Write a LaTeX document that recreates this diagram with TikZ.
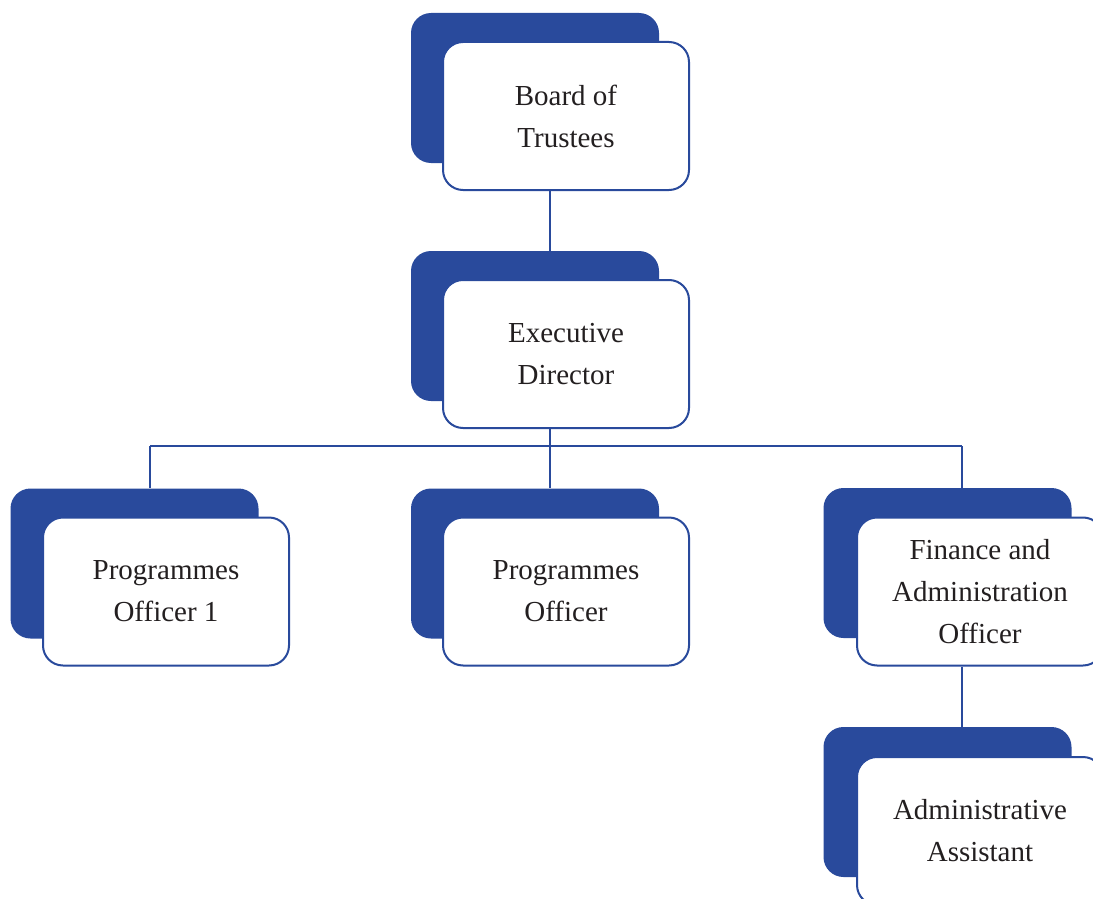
\documentclass[tikz,border=0pt]{standalone}
\usepackage{fontspec}
\setmainfont{Liberation Serif}
\usetikzlibrary{calc}
\definecolor{navy}{HTML}{294A9C}
\definecolor{ink}{HTML}{231F20}
\tikzset{
 shadowbox/.style={fill=navy, rounded corners=20pt, minimum width=248pt, minimum height=150pt, inner sep=0pt},
 unitbox/.style={draw=navy, line width=2pt, fill=white, rounded corners=20pt, minimum width=246pt, minimum height=148pt, inner sep=0pt, align=center, text=ink, font=\fontsize{29}{42}\selectfont},
 link/.style={draw=navy, line width=2pt}
}
\begin{document}
\begin{tikzpicture}[x=1pt,y=-1pt]
\useasboundingbox (0,0) rectangle (1093,899);
\clip (0,0) rectangle (1093,899);
% shadows
\node[shadowbox] (bsh) at (535,88) {};
\node[shadowbox] (esh) at (535,326) {};
\node[shadowbox] (p1sh) at (134.5,563.5) {};
\node[shadowbox] (p2sh) at (535,563.5) {};
\node[shadowbox] (fsh) at (947.5,563) {};
\node[shadowbox] (ash) at (947.5,802) {};
% boxes
\node[unitbox] (board) at (566,116) {Board of\\Trustees};
\node[unitbox] (exec) at (566,354) {Executive\\Director};
\node[unitbox] (po1) at (166,591.5) {Programmes\\Officer 1};
\node[unitbox] (po2) at (566,591.5) {Programmes\\Officer};
\node[unitbox] (fin) at (980,591.5) {Finance and\\Administration\\Officer};
\node[unitbox] (adm) at (980,831) {Administrative\\Assistant};
% connector axes
\coordinate (cx) at ($(bsh.west)!0.5!(board.east)$);
\coordinate (lx) at ($(p1sh.west)!0.5!(po1.east)$);
\coordinate (rx) at ($(fsh.west)!0.5!(fin.east)+(-1.5,0)$);
\coordinate (bus) at (0,446);
% connectors
\draw[link] (board.south -| cx) -- (esh.north -| cx);
\draw[link] (exec.south -| cx) -- (p2sh.north -| cx);
\draw[link] (bus -| lx) -- (bus -| rx);
\draw[link] (bus -| lx) -- (p1sh.north -| lx);
\draw[link] (bus -| rx) -- (fsh.north -| rx);
\draw[link] (fin.south -| rx) -- (ash.north -| rx);
\end{tikzpicture}
\end{document}
